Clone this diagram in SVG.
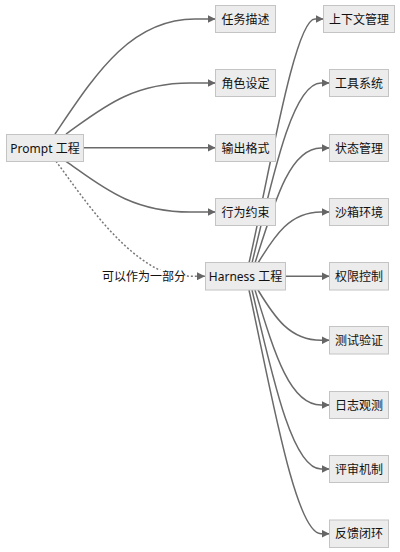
<svg xmlns="http://www.w3.org/2000/svg" width="400" height="552" viewBox="0 0 400 552">
<defs>
<marker id="arr" markerWidth="9" markerHeight="8" refX="8" refY="4" orient="auto" markerUnits="userSpaceOnUse">
<path d="M0,0 L8,4 L0,8 Z" fill="#666"/>
</marker>
<style>
.box{fill:#ececec;stroke:#c4c4c4;stroke-width:1}
.t{font-family:"Noto Sans","Noto Sans CJK SC",sans-serif;font-size:12px;fill:#111;text-anchor:middle;dominant-baseline:central}
.e{fill:none;stroke:#6a6a6a;stroke-width:1.5;marker-end:url(#arr)}
.d{fill:none;stroke:#777;stroke-width:1.5;stroke-dasharray:2 2;marker-end:url(#arr)}
</style>
</defs>
<rect width="400" height="552" fill="#fff"/>
<g id="connectors">
<path class="e" d="M55,134 C95,75 130,19 195,19 L215.5,19"/>
<path class="e" d="M66,134 C100,110 130,83 190,83 L215.5,83"/>
<path class="e" d="M83.5,147.7 L215.5,147.7"/>
<path class="e" d="M66,161.3 C100,185 130,212 190,212 L215.5,212"/>
<path class="d" d="M56,161.3 C85,200 125,262 175,276 L205,276.3"/>
<path class="e" d="M249,263 C270,170 295,19 315,19 L323.5,19"/>
<path class="e" d="M252,263 C272,180 292,83 321,83 L329.5,83"/>
<path class="e" d="M255,263 C275,200 290,148 321,148 L329.5,148"/>
<path class="e" d="M258,263 C275,235 290,212 321,212 L329.5,212"/>
<path class="e" d="M286,276.3 L329.5,276.3"/>
<path class="e" d="M258,290 C275,318 290,340.3 321,340.3 L329.5,340.3"/>
<path class="e" d="M255,290 C275,355 290,405 321,405 L329.5,405"/>
<path class="e" d="M252,290 C272,375 292,469 321,469 L329.5,469"/>
<path class="e" d="M249,290 C270,385 295,533.7 321,533.7 L329.5,533.7"/>
</g>
<g id="edge-label">
<rect x="102" y="270" width="84" height="13" fill="#fff"/>
<text class="t" x="144" y="276.5">可以作为一部分</text>
</g>
<g id="prompt"><rect class="box" x="6.5" y="134.5" width="77" height="27"/><text class="t" x="45" y="148">Prompt 工程</text></g>
<g id="n1"><rect class="box" x="215.5" y="5.5" width="60" height="27"/><text class="t" x="245.5" y="19">任务描述</text></g>
<g id="n2"><rect class="box" x="215.5" y="69.5" width="60" height="27"/><text class="t" x="245.5" y="83">角色设定</text></g>
<g id="n3"><rect class="box" x="215.5" y="134.5" width="60" height="27"/><text class="t" x="245.5" y="148">输出格式</text></g>
<g id="n4"><rect class="box" x="215.5" y="198.5" width="60" height="27"/><text class="t" x="245.5" y="212">行为约束</text></g>
<g id="harness"><rect class="box" x="205.5" y="262.5" width="80" height="27.5"/><text class="t" x="245.5" y="276.3">Harness 工程</text></g>
<g id="h1"><rect class="box" x="323.5" y="5.5" width="71" height="27"/><text class="t" x="359" y="19">上下文管理</text></g>
<g id="h2"><rect class="box" x="329.5" y="69.5" width="59" height="27"/><text class="t" x="359" y="83">工具系统</text></g>
<g id="h3"><rect class="box" x="329.5" y="134.5" width="59" height="27"/><text class="t" x="359" y="148">状态管理</text></g>
<g id="h4"><rect class="box" x="329.5" y="198.5" width="59" height="27"/><text class="t" x="359" y="212">沙箱环境</text></g>
<g id="h5"><rect class="box" x="329.5" y="262.5" width="59" height="27.5"/><text class="t" x="359" y="276.3">权限控制</text></g>
<g id="h6"><rect class="box" x="329.5" y="326.5" width="59" height="27.5"/><text class="t" x="359" y="340.3">测试验证</text></g>
<g id="h7"><rect class="box" x="329.5" y="391.5" width="59" height="27"/><text class="t" x="359" y="405">日志观测</text></g>
<g id="h8"><rect class="box" x="329.5" y="455.5" width="59" height="27"/><text class="t" x="359" y="469">评审机制</text></g>
<g id="h9"><rect class="box" x="329.5" y="520" width="59" height="27.5"/><text class="t" x="359" y="533.7">反馈闭环</text></g>
</svg>
